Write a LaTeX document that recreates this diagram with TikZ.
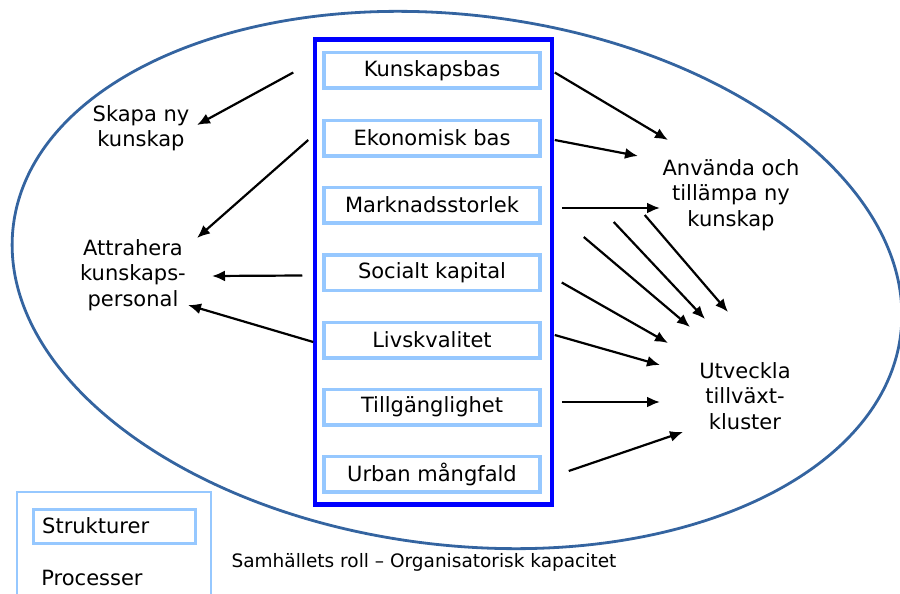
\documentclass[tikz,border=0pt]{standalone}
\usepackage{fontspec}
\setmainfont{DejaVu Sans}
\usetikzlibrary{arrows.meta}

\definecolor{ellblue}{RGB}{52,100,160}
\definecolor{ljusbla}{RGB}{150,200,255}

\tikzset{
  faktor/.style={draw=ljusbla, line width=3.5pt, minimum width=216pt, minimum height=35.5pt,
    font=\fontsize{21}{25}\selectfont, inner sep=0pt},
  roll/.style={align=center, font=\fontsize{21}{25.5}\selectfont, inner sep=0pt},
  pil/.style={line width=2.2pt, -{Latex[length=13pt,width=11pt]}}
}

\begin{document}
\begin{tikzpicture}[x=1pt,y=-1pt]
		\useasboundingbox (0,0) rectangle (900,594);
		\draw[ellblue, line width=2.8pt, rotate around={-7:(457,280)}] (457,280) ellipse (447 and 265);
		\draw[blue, line width=4.5pt] (315,39.5) rectangle (552,504.5);
		% strukturer
		\node[faktor] (kb) at (432,70.5) {Kunskapsbas};
		\node[faktor] (eb) at (432,138) {Ekonomisk bas};
		\node[faktor] (ms) at (432,205) {Marknadsstorlek};
		\node[faktor] (sk) at (432,272.5) {Socialt kapital};
		\node[faktor] (lk) at (432,340) {Livskvalitet};
		\node[faktor] (tg) at (432,407) {Tillgänglighet};
		\node[faktor] (um) at (432,474) {Urban mångfald};
		% processer
		\node[roll] (skapa) at (141,128) {Skapa ny\\kunskap};
		\node[roll] (attr) at (133,275) {Attrahera\\kunskaps-\\personal};
		\node[roll] (anv) at (731,195) {Använda och\\tillämpa ny\\kunskap};
		\node[roll] (utv) at (745,396) {Utveckla\\tillväxt-\\kluster};
		% pilar
		\draw[pil] ([shift={(-29,2)}]kb.west) -- ([shift={(56,-3)}]skapa.center);
		\draw[pil] ([shift={(-14,2)}]eb.west) -- ([shift={(64,-37)}]attr.center);
		\draw[pil] ([shift={(-20,3)}]sk.west) -- ([shift={(79,1)}]attr.center);
		\draw[pil] ([shift={(-9,2)}]lk.west) -- ([shift={(55,30)}]attr.center);
		\draw[pil] ([shift={(13,2)}]kb.east) -- ([shift={(-63,-55)}]anv.center);
		\draw[pil] ([shift={(13,2)}]eb.east) -- ([shift={(-93,-39)}]anv.center);
		\draw[pil] ([shift={(20,3)}]ms.east) -- ([shift={(-71,13)}]anv.center);
		\draw[pil] ([shift={(103,10)}]ms.east) -- ([shift={(-17,-84)}]utv.center);
		\draw[pil] ([shift={(72,17)}]ms.east) -- ([shift={(-40,-77)}]utv.center);
		\draw[pil] ([shift={(42,32)}]ms.east) -- ([shift={(-55,-69)}]utv.center);
		\draw[pil] ([shift={(20,10)}]sk.east) -- ([shift={(-77,-53)}]utv.center);
		\draw[pil] ([shift={(13,-5)}]lk.east) -- ([shift={(-85,-31)}]utv.center);
		\draw[pil] ([shift={(20,-5)}]tg.east) -- ([shift={(-85,6)}]utv.center);
		\draw[pil] ([shift={(27,-3)}]um.east) -- ([shift={(-62,36)}]utv.center);
		% legend
		\draw[ljusbla, line width=1.3pt] (17,492) rectangle (211,610);
		\node[draw=ljusbla, line width=3pt, minimum width=162pt, minimum height=34pt,
		  inner sep=0pt] (leg) at (114.5,526.5) {};
		\node[anchor=west, font=\fontsize{21}{25}\selectfont, inner sep=0pt] (legtxt) at (42,526) {Strukturer};
		\node[font=\fontsize{21}{25}\selectfont, inner sep=0pt] (proc) at (92,578) {Processer};
		\node[font=\fontsize{18.5}{22}\selectfont, inner sep=0pt] (rubrik) at (424,562) {Samhällets roll – Organisatorisk kapacitet};
\end{tikzpicture}
\end{document}
